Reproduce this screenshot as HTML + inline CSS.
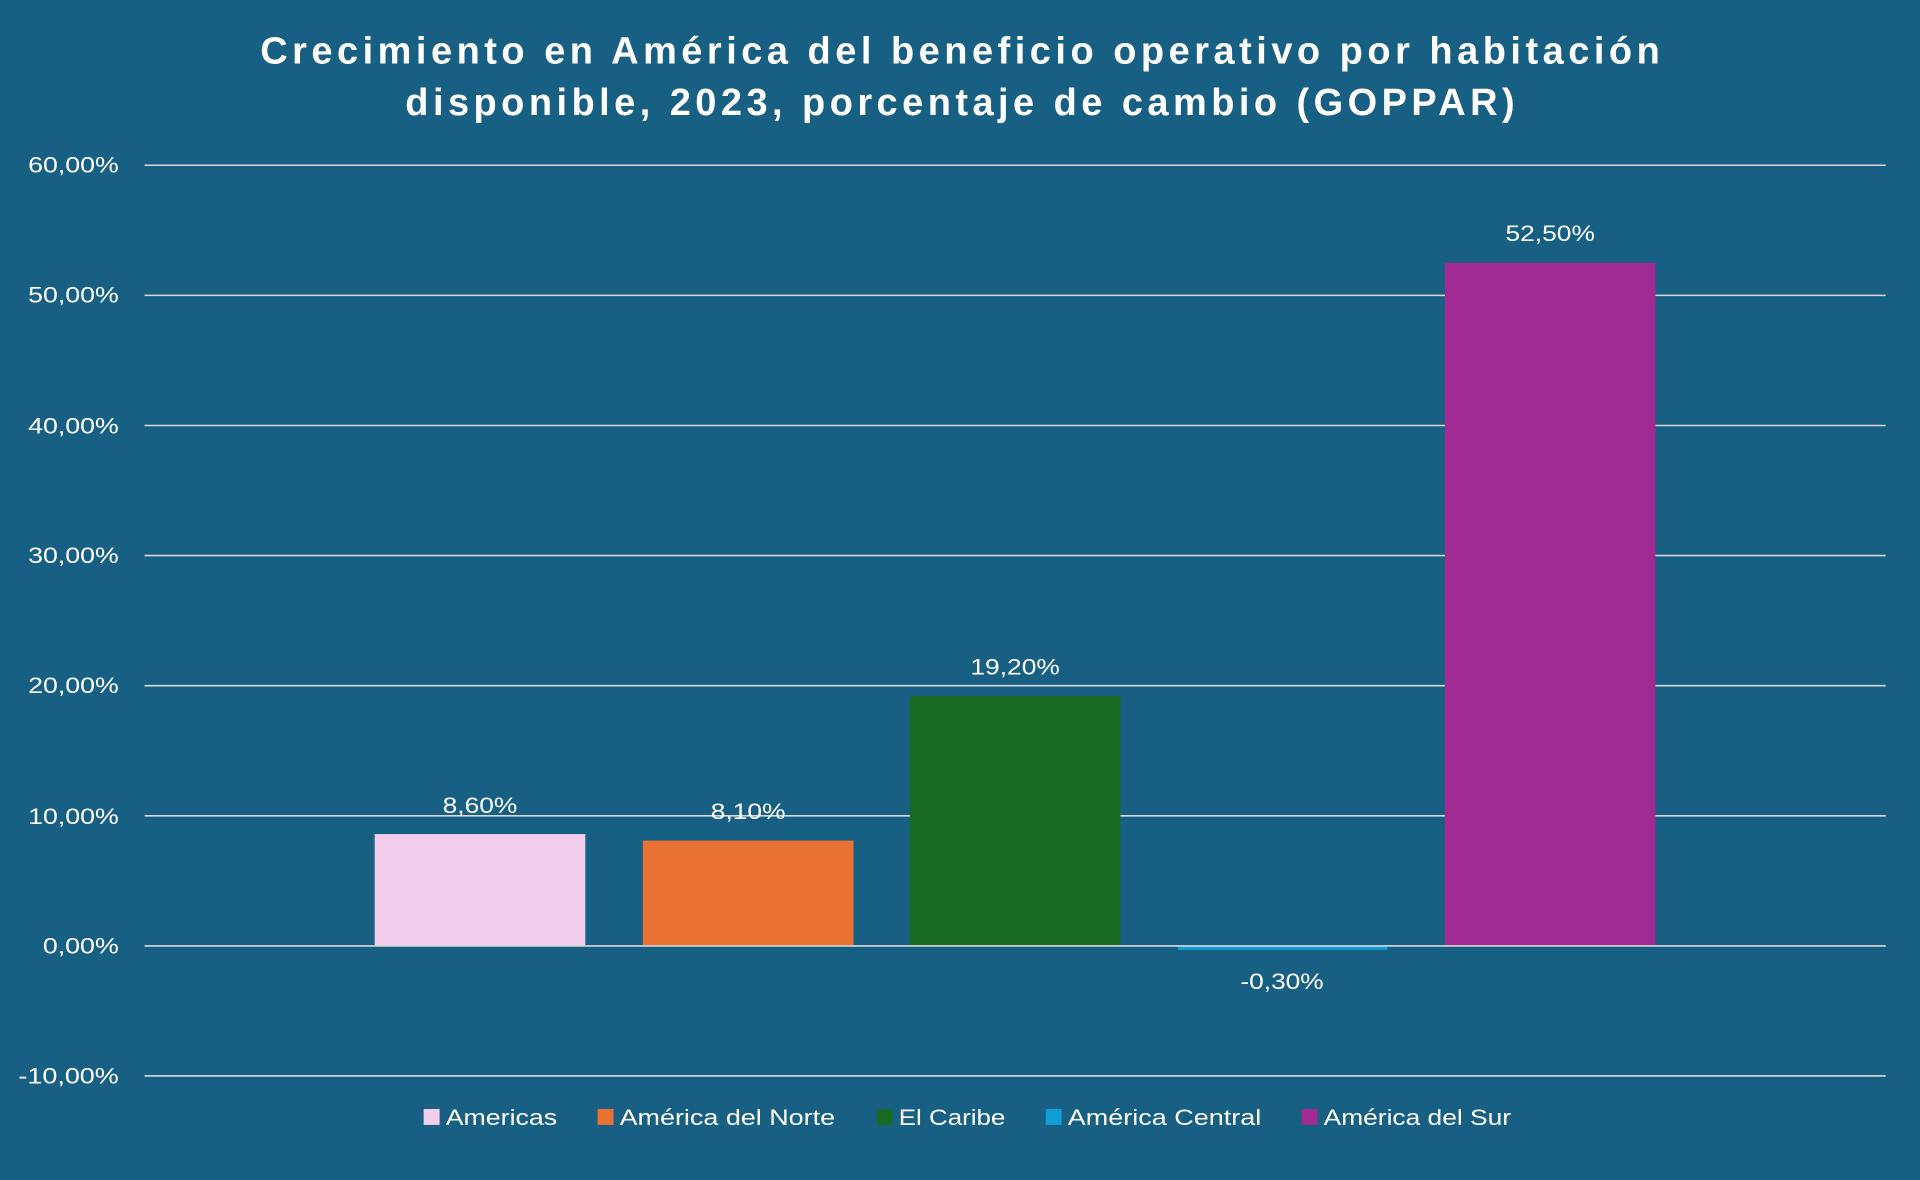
<!DOCTYPE html>
<html><head><meta charset="utf-8"><style>
html,body{margin:0;padding:0;background:#185F84;}
svg{display:block}
text{font-family:"Liberation Sans",sans-serif;fill:#fff}
</style></head><body>
<svg width="1920" height="1180" viewBox="0 0 1568 964" preserveAspectRatio="none">
<rect width="1568" height="964" fill="#185F84"/>
<text x="784" y="52" text-anchor="middle" font-size="31" font-weight="bold" textLength="1143" lengthAdjust="spacing">Crecimiento en América del beneficio operativo por habitación</text>
<text x="784" y="94" text-anchor="middle" font-size="31" font-weight="bold" textLength="906" lengthAdjust="spacing">disponible, 2023, porcentaje de cambio (GOPPAR)</text>
<g stroke="#d9d9d9" stroke-width="1.3">
<line x1="118" x2="1540" y1="135" y2="135"/>
<line x1="118" x2="1540" y1="241.3" y2="241.3"/>
<line x1="118" x2="1540" y1="347.6" y2="347.6"/>
<line x1="118" x2="1540" y1="453.9" y2="453.9"/>
<line x1="118" x2="1540" y1="560.2" y2="560.2"/>
<line x1="118" x2="1540" y1="666.5" y2="666.5"/>
<line x1="118" x2="1540" y1="879" y2="879"/>
</g>
<g font-size="18" text-anchor="end">
<text x="97" y="141" textLength="74" lengthAdjust="spacingAndGlyphs">60,00%</text>
<text x="97" y="247" textLength="74" lengthAdjust="spacingAndGlyphs">50,00%</text>
<text x="97" y="354" textLength="74" lengthAdjust="spacingAndGlyphs">40,00%</text>
<text x="97" y="460" textLength="74" lengthAdjust="spacingAndGlyphs">30,00%</text>
<text x="97" y="566" textLength="74" lengthAdjust="spacingAndGlyphs">20,00%</text>
<text x="97" y="673" textLength="74" lengthAdjust="spacingAndGlyphs">10,00%</text>
<text x="97" y="779" textLength="62" lengthAdjust="spacingAndGlyphs">0,00%</text>
<text x="97" y="885" textLength="82" lengthAdjust="spacingAndGlyphs">-10,00%</text>
</g>
<rect x="306" y="681.4" width="172" height="91.4" fill="#F2CEEC"/>
<rect x="525" y="686.7" width="172" height="86.1" fill="#E97132"/>
<rect x="743" y="568.7" width="172" height="204.1" fill="#196B24"/>
<rect x="962" y="772.8" width="171" height="3.2" fill="#0F9ED5"/>
<rect x="1180" y="214.7" width="172" height="558.1" fill="#A02B93"/>
<line x1="118" x2="1540" y1="772.8" y2="772.8" stroke="#d9d9d9" stroke-width="1.3"/>
<g font-size="18" text-anchor="middle">
<text x="392" y="664" textLength="61" lengthAdjust="spacingAndGlyphs">8,60%</text>
<text x="611" y="669" textLength="61" lengthAdjust="spacingAndGlyphs">8,10%</text>
<text x="829" y="551" textLength="73" lengthAdjust="spacingAndGlyphs">19,20%</text>
<text x="1047" y="808" textLength="68" lengthAdjust="spacingAndGlyphs">-0,30%</text>
<text x="1266" y="197" textLength="73" lengthAdjust="spacingAndGlyphs">52,50%</text>
</g>
<g font-size="18">
<rect x="346" y="906" width="13" height="13" fill="#F2CEEC"/><text x="364" y="919" textLength="91" lengthAdjust="spacingAndGlyphs">Americas</text>
<rect x="488" y="906" width="13" height="13" fill="#E97132"/><text x="506" y="919" textLength="176" lengthAdjust="spacingAndGlyphs">América del Norte</text>
<rect x="716" y="906" width="13" height="13" fill="#196B24"/><text x="734" y="919" textLength="87" lengthAdjust="spacingAndGlyphs">El Caribe</text>
<rect x="854" y="906" width="13" height="13" fill="#0F9ED5"/><text x="872" y="919" textLength="158" lengthAdjust="spacingAndGlyphs">América Central</text>
<rect x="1063" y="906" width="13" height="13" fill="#A02B93"/><text x="1081" y="919" textLength="153" lengthAdjust="spacingAndGlyphs">América del Sur</text>
</g>
</svg>
</body></html>
